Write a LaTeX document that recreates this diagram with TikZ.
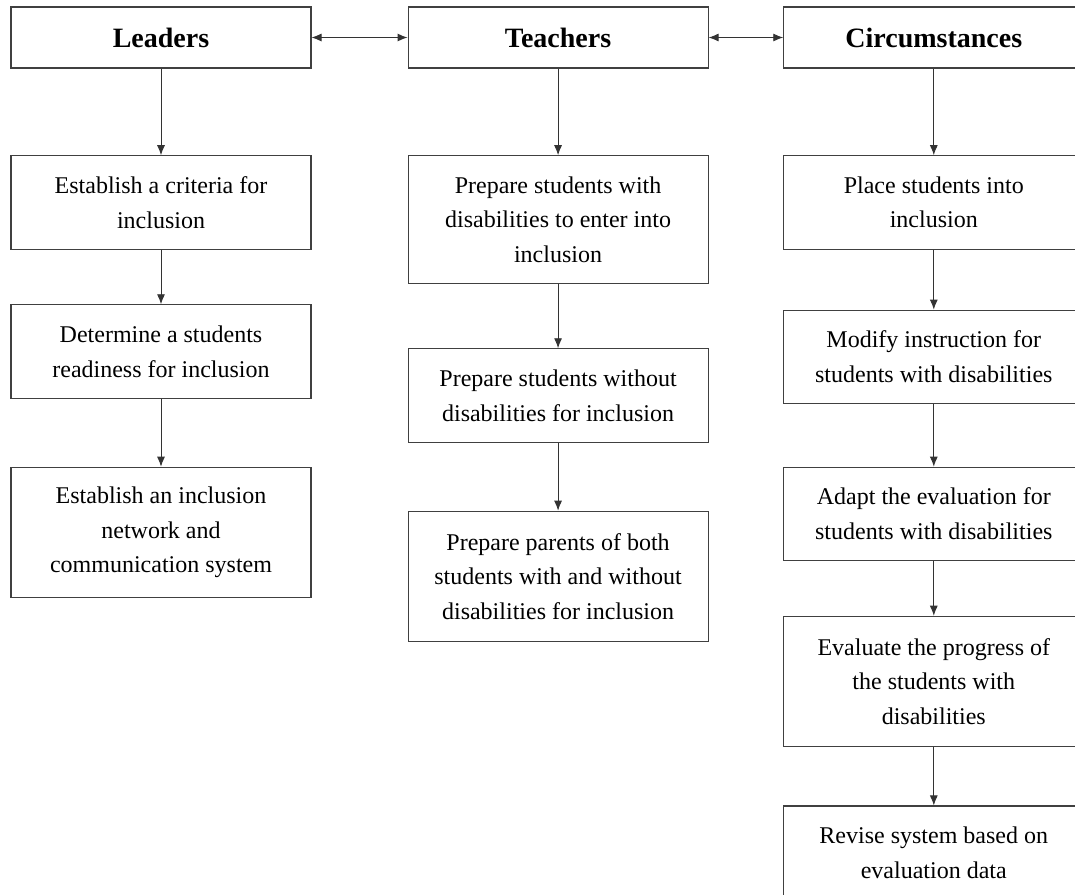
\documentclass[tikz,border=0pt]{standalone}
\usepackage{fontspec}
\setmainfont{Liberation Serif}
\usetikzlibrary{positioning,arrows.meta}

\begin{document}
\begin{tikzpicture}[
    node distance=45pt,
    every node/.style={align=center},
    head/.style={rectangle, draw=black!75, line width=0.8pt, minimum width=225pt, minimum height=45.75pt, font=\fontsize{21}{26}\selectfont\bfseries},
    task/.style={rectangle, draw=black!75, line width=0.8pt, minimum width=225pt, minimum height=70pt, inner sep=2pt, font=\fontsize{18}{26}\selectfont},
    tall/.style={task, minimum height=98pt},
    arrow/.style={-{Latex[length=7.5pt,width=6pt]}, line width=0.7pt, black!80},
    twoway/.style={{Latex[length=7.5pt,width=6pt]}-{Latex[length=7.5pt,width=6pt]}, line width=0.7pt, black!80}
]
\useasboundingbox (0,0) rectangle (806.25pt,-670.5pt);

% Top row
\node[head] (leaders) at (120.75pt,-28.125pt) {Leaders};
\node[head, right=72pt of leaders] (teachers) {Teachers};
\node[head, right=56pt of teachers] (circum) {Circumstances};

% Leaders column
\node[task, below=65pt of leaders] (criteria) {Establish a criteria for\\inclusion};
\node[task, below=41pt of criteria] (readiness) {Determine a students\\readiness for inclusion};
\node[tall, below=51pt of readiness] (network) {Establish an inclusion\\network and\\communication system};

% Teachers column
\node[tall, minimum height=96pt, below=65pt of teachers] (prepwith) {Prepare students with\\disabilities to enter into\\inclusion};
\node[task, below=48pt of prepwith] (prepwithout) {Prepare students without\\disabilities for inclusion};
\node[tall, below=51pt of prepwithout] (parents) {Prepare parents of both\\students with and without\\disabilities for inclusion};

% Circumstances column
\node[task, below=65pt of circum] (place) {Place students into\\inclusion};
\node[task, below=45pt of place] (modify) {Modify instruction for\\students with disabilities};
\node[task, below=47pt of modify] (adapt) {Adapt the evaluation for\\students with disabilities};
\node[tall, below=41pt of adapt] (progress) {Evaluate the progress of\\the students with\\disabilities};
\node[task, below=43.5pt of progress] (revise) {Revise system based on\\evaluation data};

% Links
\draw[twoway] (leaders) -- (teachers);
\draw[twoway] (teachers) -- (circum);

\draw[arrow] (leaders) -- (criteria);
\draw[arrow] (criteria) -- (readiness);
\draw[arrow] (readiness) -- (network);

\draw[arrow] (teachers) -- (prepwith);
\draw[arrow] (prepwith) -- (prepwithout);
\draw[arrow] (prepwithout) -- (parents);

\draw[arrow] (circum) -- (place);
\draw[arrow] (place) -- (modify);
\draw[arrow] (modify) -- (adapt);
\draw[arrow] (adapt) -- (progress);
\draw[arrow] (progress) -- (revise);

\end{tikzpicture}
\end{document}
